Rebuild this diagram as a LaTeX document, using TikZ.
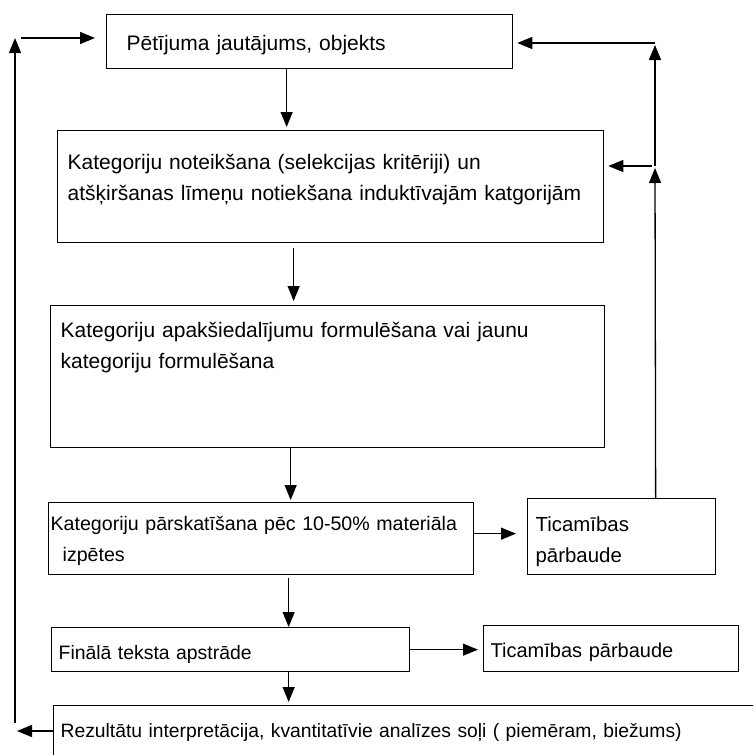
\documentclass[tikz,border=0pt]{standalone}
\usepackage{fontspec}
\setmainfont{Liberation Sans}
\usetikzlibrary{arrows.meta, positioning, calc}

\begin{document}
\begin{tikzpicture}[
		x=1pt, y=-1pt,
		% Font size of a box, same line distance everywhere
		fsize/.style={font=\fontsize{#1}{31}\selectfont},
		% Process box, text starts at the top left
		stage/.style={draw, line width=1.3pt, anchor=north west, inner ysep=0pt, align=left},
		% Standard arrow
		arrow/.style={-{Triangle[length=15pt, width=12pt]}, line width=1.3pt}
		]
		
		\useasboundingbox (0,0) rectangle (753,755);
		\clip (0,0) rectangle (753,755);
		
		% === NODES ===
		
		% Question at the top
		\node[stage, fsize=21, inner xsep=20pt, text width=366pt, text height=36pt, text depth=18pt]
		(question) at (106,14) {Pētījuma jautājums, objekts};
		
		% Category definition
		\node[stage, fsize=21, inner xsep=10pt, text width=526pt, text height=39pt, text depth=73pt]
		(define) at (57,130) {Kategoriju noteikšana (selekcijas kritēriji) un\\
			atšķiršanas līmeņu notiekšana induktīvajām katgorijām};
		
		% Sub-categories
		\node[stage, fsize=21, inner xsep=10pt, text width=534pt, text height=32pt, text depth=110pt]
		(subcat) at (50,305) {Kategoriju apakšiedalījumu formulēšana vai jaunu\\
			kategoriju formulēšana};
		
		% Revision after part of the material
		\node[stage, fsize=19.6, inner xsep=2pt, text width=421pt, text height=28pt, text depth=44pt]
		(revise) at (48,502) {Kategoriju pārskatīšana pēc 10-50\% materiāla\\
			\hspace*{12pt}izpētes};
		
		% First reliability check
		\node[stage, fsize=20.4, inner xsep=8pt, text width=172pt, text height=33pt, text depth=43pt]
		(trustA) at (527,498) {Ticamības\\ pārbaude};
		
		% Final text
		\node[stage, fsize=19.4, inner xsep=7pt, text width=344pt, text height=32pt, text depth=12pt]
		(final) at (51,627) {Finālā teksta apstrāde};
		
		% Second reliability check
		\node[stage, fsize=20, inner xsep=7pt, text width=241pt, text height=32pt, text depth=14pt]
		(trustB) at (483,625) {Ticamības pārbaude};
		
		% Results, runs off the page
		\node[stage, fsize=19.3, inner xsep=7pt, text width=716pt, text height=32pt, text depth=50pt]
		(result) at (53,705) {Rezultātu interpretācija, kvantitatīvie analīzes soļi ( piemēram, biežums)};
		
		% Corners of the feedback lines
		\coordinate (rtop) at (655,43);
		\coordinate (rjoin) at (655,166);
		\coordinate (ltop) at (15,38);
		\coordinate (lbot) at (15,723);
		\coordinate (lend) at (17,731);
		
		% === MAIN FLOW ===
		
		\draw[arrow, shorten >=3pt] ([xshift=-23pt]question.south) -- ([xshift=-23pt]question.south |- define.north);
		\draw[arrow, shorten <=5pt, shorten >=4pt] ([xshift=-37pt]define.south) -- ([xshift=-37pt]define.south |- subcat.north);
		\draw[arrow, shorten >=2pt] ([xshift=-37pt]subcat.south) -- ([xshift=-37pt]subcat.south |- revise.north);
		\draw[arrow, shorten <=3pt] ([xshift=27.5pt]revise.south) -- ([xshift=27.5pt]revise.south |- final.north);
		\draw[arrow, shorten >=3pt] ([xshift=58pt]final.south) -- ([xshift=58pt]final.south |- result.north);
		
		% === RELIABILITY CHECKS ===
		
		\draw[arrow, shorten >=11pt] ([yshift=5pt]revise.east) -- ([yshift=5pt]revise.east -| trustA.west);
		\draw[arrow, shorten >=5pt] (final.east) -- (final.east -| trustB.west);
		
		% === FEEDBACK LINES ===
		
		% right side, back to the top boxes
		\draw[arrow, shorten >=2pt] ([xshift=34pt]trustA.north) -- (rjoin);
		\draw[arrow, shorten >=2pt] (rjoin) -- (rtop);
		\draw[arrow, shorten >=4pt] (rtop) -- (rtop -| question.east);
		\draw[arrow, shorten <=3pt, shorten >=4pt] (rjoin) -- (rjoin -| define.east);
		
		% left side, from the results to the question
		\draw[arrow] (lend -| result.west) -- (lend);
		\draw[arrow] (lbot) -- (ltop);
		\draw[arrow, shorten <=6pt, shorten >=11pt] (ltop) -- (ltop -| question.west);
		
	\end{tikzpicture}
\end{document}
